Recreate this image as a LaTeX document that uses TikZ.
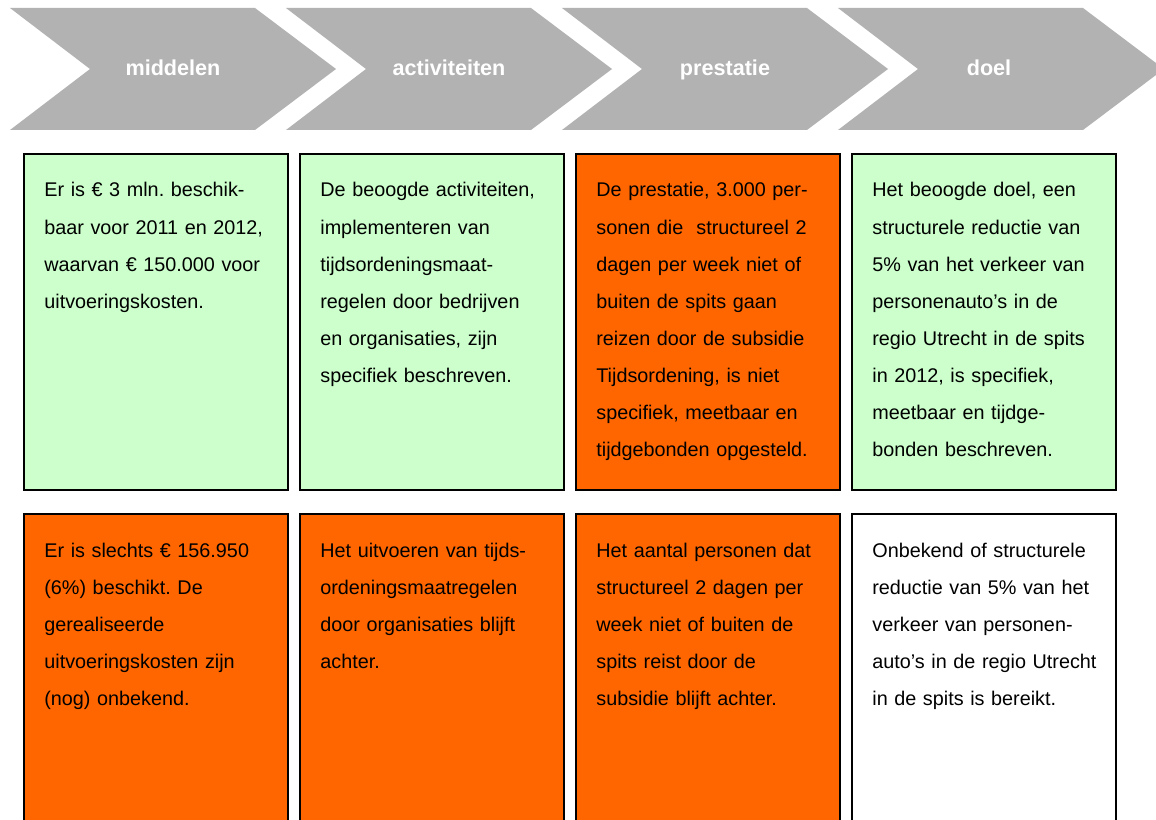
\documentclass[tikz,border=0pt]{standalone}
\usepackage{fontspec}
\setmainfont{Liberation Sans}
\frenchspacing
\def\pxu{0.5556pt}
\definecolor{okgreen}{RGB}{204,255,204}
\definecolor{alarm}{RGB}{255,102,0}
\definecolor{arrowgray}{RGB}{178,178,178}
\tikzset{
  cell/.style={draw=black, line width=0.9pt, anchor=north west, inner sep=0pt,
    minimum width=264*\pxu, minimum height=336*\pxu},
  goodcell/.style={cell, fill=okgreen},
  badcell/.style={cell, fill=alarm},
  opencell/.style={cell, fill=white},
  celltext/.style={anchor=base west, inner sep=0pt, text width=240*\pxu, align=left,
    font=\fontsize{11}{20.6}\selectfont},
  phase/.style={anchor=base, text=white, font=\fontsize{12}{14}\selectfont\bfseries}
}
\begin{document}
\begin{tikzpicture}[x=\pxu, y=-\pxu]
        \clip (0,0) rectangle (1156,820);
        \fill[white] (0,0) rectangle (1156,820);
        % chevrons
        \foreach \i in {0,...,3} {
          \pgfmathsetmacro\xa{10+276*\i}
          \fill[arrowgray] (\xa,8) -- ++(245,0) -- ++(81,61) -- ++(-81,61)
            -- ++(-245,0) -- ++(80,-61) -- cycle;
        }
        \node[phase] (middelen) at (173,76) {middelen};
        \node[phase] (activiteiten) at (449,76) {activiteiten};
        \node[phase] (prestatie) at (725,76) {prestatie};
        \node[phase] (doel) at (989,76) {doel};
        % plan
        \node[goodcell] (plan1) at (23,153) {};
        \node[goodcell] (plan2) at (299,153) {};
        \node[badcell] (plan3) at (575,153) {};
        \node[goodcell] (plan4) at (851,153) {};
        \node[celltext] (plan1t) at (44,197) {Er is € 3 mln. beschik-\\baar voor 2011 en 2012,\\waarvan € 150.000 voor\\uitvoeringskosten.};
        \node[celltext] (plan2t) at (320,197) {De beoogde activiteiten,\\implementeren van\\tijdsordeningsmaat-\\regelen door bedrijven\\en organisaties, zijn\\specifiek beschreven.};
        \node[celltext] (plan3t) at (596,197) {De prestatie, 3.000 per-\\sonen die\ \ structureel 2\\dagen per week niet of\\buiten de spits gaan\\reizen door de subsidie\\Tijdsordening, is niet\\specifiek, meetbaar en\\tijdgebonden opgesteld.};
        \node[celltext] (plan4t) at (872,197) {Het beoogde doel, een\\structurele reductie van\\5\% van het verkeer van\\personenauto’s in de\\regio Utrecht in de spits\\in 2012, is specifiek,\\meetbaar en tijdge-\\bonden beschreven.};
        % realisatie
        \node[badcell] (real1) at (23,513) {};
        \node[badcell] (real2) at (299,513) {};
        \node[badcell] (real3) at (575,513) {};
        \node[opencell] (real4) at (851,513) {};
        \node[celltext] (real1t) at (44,557) {Er is slechts € 156.950\\(6\%) beschikt. De\\gerealiseerde\\uitvoeringskosten zijn\\(nog) onbekend.};
        \node[celltext] (real2t) at (320,557) {Het uitvoeren van tijds-\\ordeningsmaatregelen\\door organisaties blijft\\achter.};
        \node[celltext] (real3t) at (596,557) {Het aantal personen dat\\structureel 2 dagen per\\week niet of buiten de\\spits reist door de\\subsidie blijft achter.};
        \node[celltext] (real4t) at (872,557) {Onbekend of structurele\\reductie van 5\% van het\\verkeer van personen-\\auto’s in de regio Utrecht\\in de spits is bereikt.};
      \end{tikzpicture}
\end{document}
